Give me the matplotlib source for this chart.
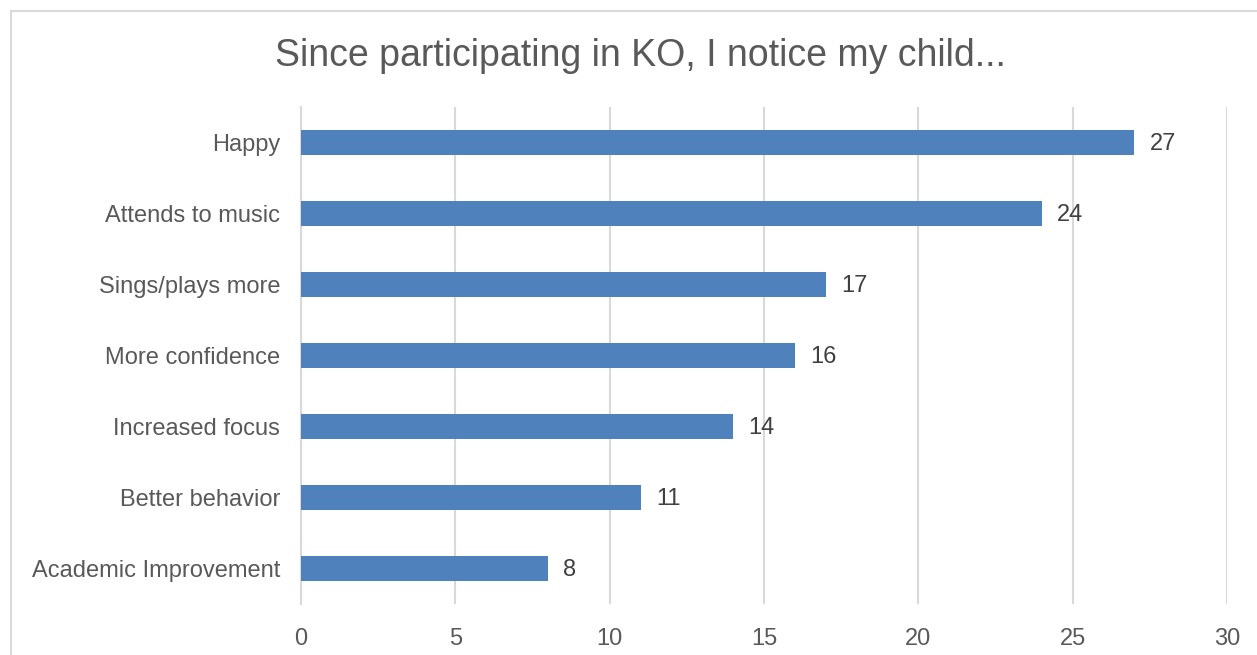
import matplotlib.pyplot as plt
from matplotlib.patches import Rectangle

plt.rcParams['font.family'] = ['Liberation Sans', 'DejaVu Sans']

categorias = ["Happy", "Attends to music", "Sings/plays more", "More confidence",
              "Increased focus", "Better behavior", "Academic Improvement"]
valores = [27, 24, 17, 16, 14, 11, 8]
ticks_x = [0, 5, 10, 15, 20, 25, 30]
titulo = "Since participating in KO, I notice my child..."

fig = plt.figure(figsize=(12.57, 6.55), dpi=100)
ax = fig.add_axes([0.2395, 0.0779, 0.7366, 0.7587])

# marco gris alrededor del grafico
fig.patches.append(Rectangle((11 / 1257, -0.1), 1.2, 1 - 11 / 655 + 0.1,
                             transform=fig.transFigure, fill=False,
                             edgecolor="#d9d9d9", linewidth=1.5))

pos = list(range(len(categorias)))[::-1]
ax.barh(pos, valores, height=0.35, color="#4f81bd", zorder=3)

for p, v in zip(pos, valores):
    ax.text(v + 0.5, p - 0.02, str(v), va="center", ha="left",
            fontsize=17, color="#404040")

ax.set_xlim(0, 30)
ax.set_ylim(-0.5, len(categorias) - 0.5)
ax.set_xticks(ticks_x)
ax.set_yticks(pos)
ax.set_yticklabels(categorias)
ax.tick_params(axis="both", length=0, labelsize=17, labelcolor="#595959")
ax.tick_params(axis="x", pad=17)
ax.tick_params(axis="y", pad=15)
ax.xaxis.grid(True, color="#d9d9d9", linewidth=1.5, zorder=0)
for s in ["top", "right", "bottom"]:
    ax.spines[s].set_visible(False)
ax.spines["left"].set_color("#d9d9d9")
ax.spines["left"].set_linewidth(1.5)

fig.text(0.5 * (277 + 1003) / 1257, 1 - 56 / 655, titulo, ha="center",
         va="center", fontsize=27, color="#595959")

fig.savefig("out.png", dpi=100)
